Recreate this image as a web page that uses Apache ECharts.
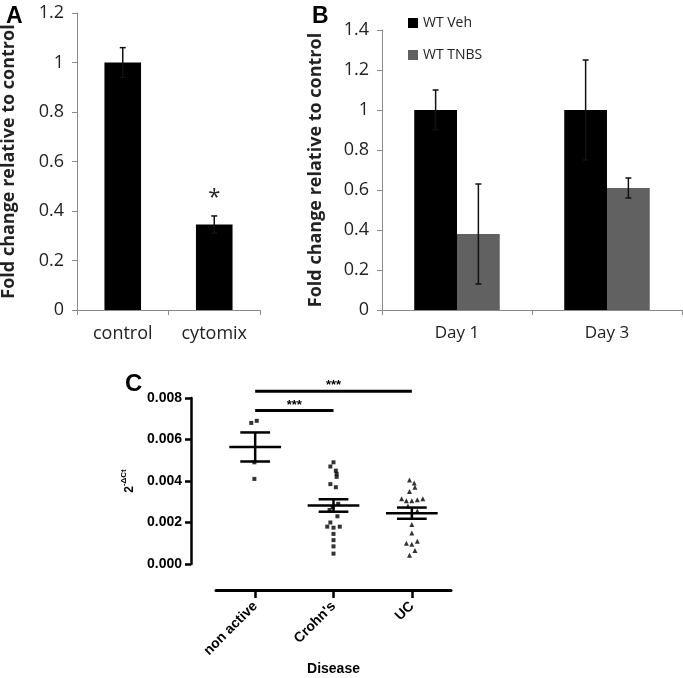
<!DOCTYPE html>
<html>
<head>
<meta charset="utf-8">
<script src="https://cdn.jsdelivr.net/npm/echarts@6/dist/echarts.min.js"></script>
<style>
html,body{margin:0;padding:0;background:#fff;}
#chart{width:683px;height:678px;}
</style>
</head>
<body>
<div id="chart"></div>
<script>
// ---------- Panel A ----------
const aCategories = ['control', 'cytomix'];
const aValues = [1.0, 0.345];
const aErrors = [0.06, 0.035];
const aSignif = ['', '*'];

// ---------- Panel B ----------
const bCategories = ['Day 1', 'Day 3'];
const bSeriesNames = ['WT Veh', 'WT TNBS'];
const bVeh = [1.0, 1.0];
const bVehErr = [0.10, 0.25];
const bTnbs = [0.38, 0.61];
const bTnbsErr = [0.25, 0.05];

// ---------- Panel C ----------
const cCategories = ['non active', "Crohn's", 'UC'];
const cNonActive = [0.0068, 0.0069, 0.0049, 0.0041];
const cNonActiveJitter = [-0.05, 0.02, -0.01, -0.01];
const cCrohns = [0.0049, 0.0047, 0.0045, 0.00435, 0.0042, 0.00385, 0.0037, 0.0029, 0.00275, 0.0026, 0.0023, 0.0020, 0.0018, 0.00175, 0.0018, 0.00145, 0.00115, 0.00085, 0.0005];
const cCrohnsJitter = [0, -0.04, 0.03, 0.04, 0.04, -0.04, 0.03, 0.06, -0.01, -0.05, 0.05, -0.04, -0.08, 0, 0.08, 0, 0, 0, 0];
const cUC = [0.00405, 0.0039, 0.0037, 0.0035, 0.00315, 0.00305, 0.00305, 0.0031, 0.00315, 0.0028, 0.00255, 0.0019, 0.0015, 0.0010, 0.00095, 0.0011, 0.00065, 0.00042];
const cUCJitter = [-0.03, 0.03, 0.04, -0.03, -0.13, -0.07, 0, 0.07, 0.14, -0.05, 0.07, 0, 0, -0.07, 0, 0.07, 0.04, -0.03];
const cMeans = [0.00564, 0.00282, 0.00245];
const cSem = [0.0007, 0.0003, 0.00027];
const cSigFrom = [0, 0];
const cSigTo = [1, 2];
const cSigY = [0.0074, 0.00833];
const cSigText = ['***', '***'];

const FONT_AB = 'Open Sans';
const FONT_C = 'Liberation Sans';

function errorBarRenderer(offsetFrac) {
  return function (params, api) {
    const x = api.value(0), v = api.value(1), e = api.value(2);
    const band = api.size([1, 0])[0];
    const dx = band * offsetFrac;
    const top = api.coord([x, v + e]);
    const bot = api.coord([x, v - e]);
    const cx = top[0] + dx;
    const cap = 3;
    const st = { stroke: '#111', lineWidth: 1.5 };
    return {
      type: 'group',
      children: [
        { type: 'line', shape: { x1: cx, y1: top[1], x2: cx, y2: bot[1] }, style: st },
        { type: 'line', shape: { x1: cx - cap, y1: top[1], x2: cx + cap, y2: top[1] }, style: st },
        { type: 'line', shape: { x1: cx - cap, y1: bot[1], x2: cx + cap, y2: bot[1] }, style: st }
      ]
    };
  };
}

function meanSemRenderer(params, api) {
  const x = api.value(0), m = api.value(1), s = api.value(2);
  const mid = api.coord([x, m]);
  const hi = api.coord([x, m + s]);
  const lo = api.coord([x, m - s]);
  const unit = api.size([1, 0])[0];
  const mh = unit * 0.33, sh = unit * 0.19;
  const st = { stroke: '#000', lineWidth: 2.5 };
  return {
    type: 'group',
    children: [
      { type: 'line', shape: { x1: mid[0] - mh, y1: mid[1], x2: mid[0] + mh, y2: mid[1] }, style: st },
      { type: 'line', shape: { x1: hi[0] - sh, y1: hi[1], x2: hi[0] + sh, y2: hi[1] }, style: st },
      { type: 'line', shape: { x1: lo[0] - sh, y1: lo[1], x2: lo[0] + sh, y2: lo[1] }, style: st },
      { type: 'line', shape: { x1: mid[0], y1: hi[1], x2: mid[0], y2: lo[1] }, style: st }
    ]
  };
}

function sigRenderer(params, api) {
  const a = api.coord([api.value(0), api.value(2)]);
  const b = api.coord([api.value(1), api.value(2)]);
  const txt = cSigText[params.dataIndex];
  return {
    type: 'group',
    children: [
      { type: 'line', shape: { x1: a[0], y1: a[1], x2: b[0], y2: b[1] }, style: { stroke: '#000', lineWidth: 3 } },
      { type: 'text', x: (a[0] + b[0]) / 2, y: a[1] + 1, style: { text: txt, fill: '#000', font: 'bold 13px "Liberation Sans"', align: 'center', verticalAlign: 'bottom' } }
    ]
  };
}

function jittered(vals, jit, idx) {
  return vals.map((v, i) => [idx + jit[i], v]);
}

const abAxisLine = { show: true, onZero: false, lineStyle: { color: '#8a8a8a', width: 1 } };
const abTick = { show: true, length: 5, lineStyle: { color: '#8a8a8a', width: 1 } };
const abLabel = { fontFamily: FONT_AB, fontSize: 18, color: '#222' };
const fmt1 = v => String(parseFloat(v.toFixed(1)));

const option = {
  animation: false,
  backgroundColor: '#fff',
  title: [
    { text: 'A', left: 1, top: 0, textStyle: { fontFamily: FONT_C, fontWeight: 'bold', fontSize: 23, color: '#000' } },
    { text: 'B', left: 307, top: 0, textStyle: { fontFamily: FONT_C, fontWeight: 'bold', fontSize: 23, color: '#000' } },
    { text: 'C', left: 120, top: 367, textStyle: { fontFamily: FONT_C, fontWeight: 'bold', fontSize: 24, color: '#000' } }
  ],
  legend: {
    data: bSeriesNames,
    orient: 'vertical',
    left: 403,
    top: 11,
    itemGap: 18,
    itemWidth: 10,
    itemHeight: 10,
    icon: 'rect',
    textStyle: { fontFamily: FONT_AB, fontSize: 14, color: '#222' }
  },
  grid: [
    { left: 77, top: 13, width: 183, height: 297, outerBoundsMode: 'none', containLabel: false },
    { left: 382, top: 30, width: 300, height: 280, outerBoundsMode: 'none', containLabel: false },
    { left: 216, top: 398, width: 235, height: 166, outerBoundsMode: 'none', containLabel: false }
  ],
  xAxis: [
    { type: 'category', gridIndex: 0, data: aCategories, axisLine: abAxisLine, axisTick: abTick,
      axisLabel: Object.assign({ margin: 15 }, abLabel) },
    { type: 'category', gridIndex: 1, data: bCategories, axisLine: abAxisLine, axisTick: abTick,
      axisLabel: Object.assign({ margin: 15 }, abLabel, { fontSize: 17 }) },
    { type: 'category', gridIndex: 2, data: cCategories, offset: 26, position: 'bottom',
      axisLine: { show: true, onZero: false, lineStyle: { color: '#000', width: 3 } },
      axisTick: { show: true, alignWithLabel: true, length: 8, lineStyle: { color: '#000', width: 2.5 } },
      axisLabel: { rotate: 45, margin: 14, fontFamily: FONT_C, fontWeight: 'bold', fontSize: 14, color: '#000' },
      name: 'Disease', nameLocation: 'middle', nameGap: 72,
      nameTextStyle: { fontFamily: FONT_C, fontWeight: 'bold', fontSize: 14, color: '#000' } },
    { type: 'value', gridIndex: 2, min: -0.5, max: 2.5, show: false, axisLine: { onZero: false } }
  ],
  yAxis: [
    { type: 'value', gridIndex: 0, min: 0, max: 1.2, interval: 0.2, splitLine: { show: false },
      axisLine: abAxisLine, axisTick: abTick,
      axisLabel: Object.assign({ margin: 13, formatter: fmt1 }, abLabel),
      name: 'Fold change relative to control', nameLocation: 'middle', nameGap: 59, nameRotate: 90,
      nameTextStyle: { fontFamily: FONT_AB, fontWeight: 'bold', fontSize: 18, color: '#222' } },
    { type: 'value', gridIndex: 1, min: 0, max: 1.4, interval: 0.2, splitLine: { show: false },
      axisLine: abAxisLine, axisTick: abTick,
      axisLabel: Object.assign({ margin: 13, formatter: fmt1 }, abLabel),
      name: 'Fold change relative to control', nameLocation: 'middle', nameGap: 57, nameRotate: 90,
      nameTextStyle: { fontFamily: FONT_AB, fontWeight: 'bold', fontSize: 18, color: '#222' } },
    { type: 'value', gridIndex: 2, min: 0, max: 0.008, interval: 0.002, splitLine: { show: false }, offset: 25, position: 'left',
      axisLine: { show: true, onZero: false, lineStyle: { color: '#000', width: 2.5 } },
      axisTick: { show: true, length: 6, lineStyle: { color: '#000', width: 2.5 } },
      axisLabel: { margin: 9, fontFamily: FONT_C, fontWeight: 'bold', fontSize: 14, color: '#000', formatter: v => v.toFixed(3) },
      name: '{a|2}{b|-ΔCt}', nameLocation: 'middle', nameGap: 55, nameRotate: 90,
      nameTextStyle: { rich: {
        a: { fontFamily: FONT_C, fontWeight: 'bold', fontSize: 12, color: '#000', lineHeight: 16, verticalAlign: 'bottom' },
        b: { fontFamily: FONT_C, fontWeight: 'bold', fontSize: 8, color: '#000', lineHeight: 16, verticalAlign: 'top' }
      } } }
  ],
  series: [
    { type: 'bar', xAxisIndex: 0, yAxisIndex: 0, barWidth: '40%',
      itemStyle: { color: '#000' },
      data: aValues.map((v, i) => ({
        value: v,
        label: { show: aSignif[i] !== '', position: 'top', distance: 16, formatter: aSignif[i],
                 fontFamily: FONT_AB, fontSize: 22, color: '#222' }
      })) },
    { type: 'custom', name: 'errA', xAxisIndex: 0, yAxisIndex: 0, renderItem: errorBarRenderer(0),
      encode: { x: 0, y: 1 }, clip: false, z: 5,
      data: aCategories.map((c, i) => [i, aValues[i], aErrors[i]]) },
    { type: 'bar', name: bSeriesNames[0], xAxisIndex: 1, yAxisIndex: 1, barGap: '0%', barCategoryGap: '43%',
      itemStyle: { color: '#000' }, data: bVeh },
    { type: 'bar', name: bSeriesNames[1], xAxisIndex: 1, yAxisIndex: 1, barGap: '0%', barCategoryGap: '43%',
      itemStyle: { color: '#616161' }, data: bTnbs },
    { type: 'custom', name: 'errVeh', xAxisIndex: 1, yAxisIndex: 1, renderItem: errorBarRenderer(-0.1425),
      encode: { x: 0, y: 1 }, clip: false, z: 5,
      data: bCategories.map((c, i) => [i, bVeh[i], bVehErr[i]]) },
    { type: 'custom', name: 'errTnbs', xAxisIndex: 1, yAxisIndex: 1, renderItem: errorBarRenderer(0.1425),
      encode: { x: 0, y: 1 }, clip: false, z: 5,
      data: bCategories.map((c, i) => [i, bTnbs[i], bTnbsErr[i]]) },
    { type: 'scatter', name: cCategories[0], xAxisIndex: 3, yAxisIndex: 2, symbol: 'rect', symbolSize: 4,
      itemStyle: { color: '#000' }, data: jittered(cNonActive, cNonActiveJitter, 0) },
    { type: 'scatter', name: cCategories[1], xAxisIndex: 3, yAxisIndex: 2, symbol: 'rect', symbolSize: 4,
      itemStyle: { color: '#000' }, data: jittered(cCrohns, cCrohnsJitter, 1) },
    { type: 'scatter', name: cCategories[2], xAxisIndex: 3, yAxisIndex: 2, symbol: 'triangle', symbolSize: 5,
      itemStyle: { color: '#000' }, data: jittered(cUC, cUCJitter, 2) },
    { type: 'custom', name: 'meanSem', xAxisIndex: 3, yAxisIndex: 2, renderItem: meanSemRenderer,
      encode: { x: 0, y: 1 }, clip: false, z: 6,
      data: cMeans.map((m, i) => [i, m, cSem[i]]) },
    { type: 'custom', name: 'sig', xAxisIndex: 3, yAxisIndex: 2, renderItem: sigRenderer,
      encode: { x: [0, 1], y: 2 }, clip: false, z: 6,
      data: cSigY.map((y, i) => [cSigFrom[i], cSigTo[i], y]) }
  ]
};

const chart = echarts.init(document.getElementById('chart'), null, { renderer: 'canvas' });
chart.setOption(option);
</script>
</body>
</html>
